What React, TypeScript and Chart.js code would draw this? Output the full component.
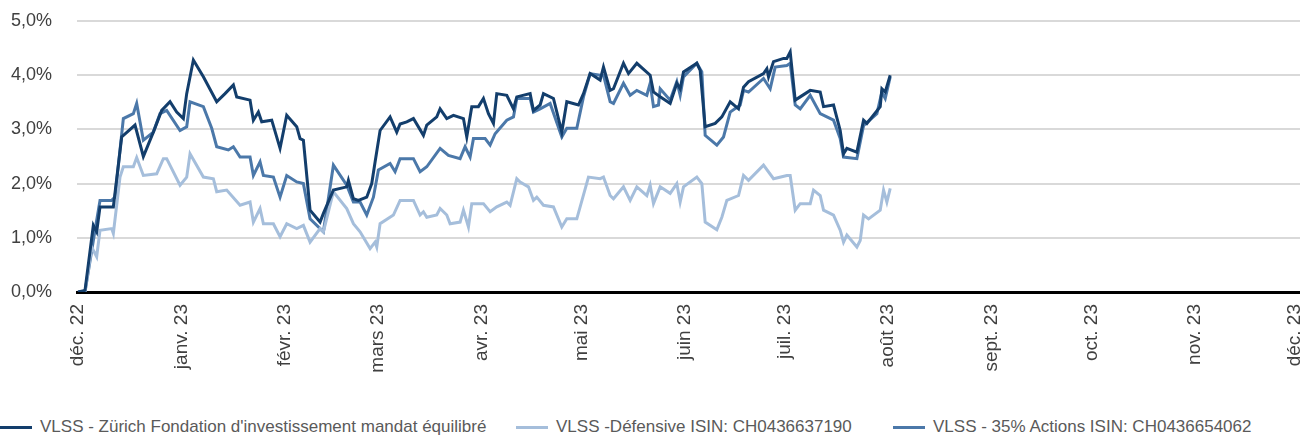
import { useEffect, useRef } from 'react';
import { Chart, registerables } from 'chart.js';

Chart.register(...registerables);

const FONT = '"Liberation Sans", Arial, Helvetica, sans-serif';
const TICK_COLOR = '#404040';

// x axis: days since 1 Dec 2022, month starts
const monthLabels = ['déc. 22', 'janv. 23', 'févr. 23', 'mars 23', 'avr. 23', 'mai 23', 'juin 23', 'juil. 23', 'août 23', 'sept. 23', 'oct. 23', 'nov. 23', 'déc. 23'];
const monthDays = [0, 31, 62, 90, 121, 151, 182, 212, 243, 274, 304, 335, 365];
const yTickLabels = ['0,0%', '1,0%', '2,0%', '3,0%', '4,0%', '5,0%'];

const seriesNames = [
  "VLSS - Zürich Fondation d'investissement mandat équilibré",
  'VLSS -Défensive ISIN: CH0436637190',
  'VLSS - 35% Actions ISIN: CH0436654062',
];
const seriesColors = ['#133e6c', '#a5bedb', '#4b78a9'];
const legendLeft = [0, 516, 893];

// [day, performance %]
const equilibre: [number, number][] = [
  [0, 0], [2.1, 0.03], [4.6, 1.23], [5.6, 1.11], [6.6, 1.57], [10.6, 1.57], [13.1, 2.86], [17.1, 3.08], [19.6, 2.5], [22.6, 2.95],
  [25.1, 3.35], [27.6, 3.51], [29.6, 3.32], [31.6, 3.2], [32.6, 3.66], [34.6, 4.28], [37.6, 3.97], [41.6, 3.51], [44.1, 3.66], [46.6, 3.82],
  [47.6, 3.6], [51.6, 3.54], [52.6, 3.17], [54.1, 3.32], [55.1, 3.14], [58.1, 3.17], [60.6, 2.65], [62.6, 3.26], [65.6, 3.05], [66.6, 2.83],
  [67.6, 2.8], [69.6, 1.51], [72.6, 1.29], [73.6, 1.45], [76.6, 1.88], [80.6, 1.94], [81.1, 2.06], [82.6, 1.72], [84.1, 1.69], [86.6, 1.75],
  [88.1, 2.0], [89.1, 2.4], [90.6, 2.98], [93.6, 3.23], [95.6, 2.95], [96.6, 3.1], [98.6, 3.14], [100.6, 3.2], [103.6, 2.89], [104.6, 3.08],
  [107.6, 3.23], [108.6, 3.38], [110.6, 3.2], [112.6, 3.26], [115.6, 3.2], [116.6, 2.86], [118.1, 3.42], [120.1, 3.42], [121.6, 3.57], [123.1, 3.29],
  [124.6, 3.11], [125.6, 3.66], [128.6, 3.63], [130.6, 3.38], [131.6, 3.6], [135.6, 3.66], [136.6, 3.35], [138.6, 3.45], [139.6, 3.66], [142.6, 3.57],
  [145.1, 2.95], [146.6, 3.51], [150.1, 3.45], [151.6, 3.66], [153.6, 4.03], [156.6, 3.91], [157.6, 4.15], [159.6, 3.72], [160.6, 3.75], [163.6, 4.22],
  [165.1, 4.03], [167.6, 4.22], [171.6, 4.0], [172.6, 3.69], [174.6, 3.6], [177.6, 3.48], [179.6, 3.85], [180.6, 3.75], [181.6, 4.06], [185.6, 4.22],
  [186.6, 4.09], [188.1, 3.05], [191.1, 3.11], [193.1, 3.23], [195.6, 3.51], [198.1, 3.38], [199.6, 3.78], [201.1, 3.88], [205.6, 4.03], [206.6, 4.12],
  [207.1, 3.97], [208.6, 4.25], [211.6, 4.31], [212.6, 4.31], [213.6, 4.43], [215.1, 3.54], [216.6, 3.6], [219.6, 3.72], [222.6, 3.69], [223.6, 3.42],
  [226.6, 3.45], [228.6, 2.98], [229.6, 2.55], [230.6, 2.65], [233.6, 2.58], [235.6, 3.17], [236.6, 3.11], [240.6, 3.42], [241.1, 3.75], [242.1, 3.69],
  [243.6, 4.0],
];

const defensive: [number, number][] = [
  [0, 0], [2.1, 0], [4.1, 0.83], [5.6, 0.65], [6.6, 1.14], [10.1, 1.17], [10.6, 1.08], [12.6, 2.12], [13.6, 2.31], [16.6, 2.31],
  [17.6, 2.48], [19.6, 2.15], [23.6, 2.18], [25.6, 2.46], [26.6, 2.46], [30.6, 1.97], [32.6, 2.12], [33.6, 2.55], [37.6, 2.12], [40.6, 2.09],
  [41.6, 1.85], [44.6, 1.88], [48.6, 1.6], [51.6, 1.66], [52.6, 1.29], [54.6, 1.54], [55.6, 1.26], [58.6, 1.26], [60.6, 1.02], [62.6, 1.26],
  [65.6, 1.17], [67.6, 1.23], [69.6, 0.92], [72.6, 1.17], [73.6, 1.11], [76.6, 1.85], [80.6, 1.54], [82.6, 1.26], [84.6, 1.11], [87.6, 0.8],
  [89.1, 0.92], [89.6, 0.83], [90.6, 1.26], [94.6, 1.42], [96.6, 1.69], [100.6, 1.69], [102.6, 1.42], [103.6, 1.48], [104.6, 1.38], [107.6, 1.42],
  [108.6, 1.54], [110.6, 1.42], [111.6, 1.26], [114.6, 1.29], [115.6, 1.51], [117.1, 1.2], [118.1, 1.63], [121.6, 1.63], [123.6, 1.48], [125.6, 1.57],
  [128.6, 1.66], [129.6, 1.6], [131.6, 2.09], [132.6, 2.03], [135.1, 1.94], [136.6, 1.69], [137.6, 1.75], [139.6, 1.6], [142.6, 1.57], [145.1, 1.2],
  [146.6, 1.35], [149.6, 1.35], [153.1, 2.12], [156.6, 2.09], [157.6, 2.12], [159.6, 1.78], [160.6, 1.72], [163.6, 1.94], [165.6, 1.69], [167.6, 1.94],
  [170.6, 1.78], [171.6, 1.97], [172.6, 1.63], [174.6, 1.94], [177.6, 1.82], [179.6, 2.0], [180.6, 1.66], [181.6, 1.94], [185.6, 2.12], [187.1, 2.0],
  [188.1, 1.29], [191.6, 1.15], [193.1, 1.38], [194.6, 1.69], [198.1, 1.78], [199.6, 2.15], [201.1, 2.06], [205.6, 2.34], [208.6, 2.09], [212.6, 2.15],
  [213.6, 2.15], [215.1, 1.51], [216.6, 1.63], [219.6, 1.63], [220.6, 1.88], [222.6, 1.78], [223.6, 1.51], [226.6, 1.42], [228.6, 1.14], [229.6, 0.92],
  [230.6, 1.05], [233.6, 0.83], [234.6, 0.95], [235.6, 1.42], [237.1, 1.35], [240.6, 1.51], [241.6, 1.88], [242.6, 1.66], [243.6, 1.91],
];

const actions35: [number, number][] = [
  [0, 0], [2.1, 0], [5.1, 1.14], [6.6, 1.69], [10.1, 1.69], [11.1, 1.75], [13.6, 3.2], [16.6, 3.29], [17.6, 3.48], [19.6, 2.8],
  [22.6, 2.95], [24.6, 3.29], [26.6, 3.35], [30.6, 2.98], [32.6, 3.05], [33.6, 3.51], [37.6, 3.42], [40.1, 3.02], [41.6, 2.68], [45.1, 2.62],
  [46.6, 2.68], [48.6, 2.49], [51.6, 2.49], [52.6, 2.15], [54.6, 2.4], [55.6, 2.15], [58.6, 2.12], [60.6, 1.75], [62.6, 2.15], [65.6, 2.03],
  [67.6, 2.0], [69.6, 1.35], [73.6, 1.11], [76.6, 2.34], [80.6, 1.97], [82.6, 1.66], [84.6, 1.66], [86.6, 1.42], [88.6, 1.75], [90.1, 2.25],
  [93.6, 2.37], [95.1, 2.22], [96.6, 2.46], [100.6, 2.46], [102.6, 2.22], [104.6, 2.31], [108.6, 2.65], [111.1, 2.52], [114.6, 2.46], [116.1, 2.68],
  [117.6, 2.49], [118.6, 2.83], [122.1, 2.83], [123.6, 2.71], [125.1, 2.92], [128.6, 3.17], [130.6, 3.23], [131.6, 3.57], [135.6, 3.57], [136.6, 3.32],
  [138.6, 3.38], [141.6, 3.48], [145.1, 2.86], [146.6, 3.02], [149.6, 3.02], [151.6, 3.6], [153.6, 4.03], [156.6, 4.0], [157.6, 4.0], [159.6, 3.51],
  [160.6, 3.48], [163.6, 3.85], [165.6, 3.63], [167.6, 3.72], [170.6, 3.63], [171.6, 3.85], [172.6, 3.42], [174.1, 3.45], [174.6, 3.75], [177.6, 3.54],
  [179.6, 3.88], [180.6, 3.63], [181.6, 3.97], [185.6, 4.22], [187.1, 4.06], [188.1, 2.89], [191.6, 2.71], [193.6, 2.86], [195.6, 3.32], [198.6, 3.45],
  [199.6, 3.72], [201.1, 3.69], [205.6, 3.94], [207.6, 3.75], [209.1, 4.15], [212.6, 4.18], [213.6, 4.22], [215.1, 3.45], [216.6, 3.38], [219.6, 3.63],
  [222.6, 3.29], [226.6, 3.17], [228.6, 2.83], [229.6, 2.49], [233.6, 2.46], [235.6, 3.07], [239.6, 3.29], [241.1, 3.69], [242.1, 3.57], [243.6, 3.97],
];

const seriesData = [equilibre, defensive, actions35];

export default function App() {
  const canvasRef = useRef<HTMLCanvasElement>(null);

  useEffect(() => {
    document.body.style.margin = '0';
    const canvas = canvasRef.current;
    if (!canvas) return;
    const chart = new Chart(canvas, {
      type: 'line',
      data: {
        datasets: seriesData.map((s, i) => ({
          label: seriesNames[i],
          data: s.map(([x, y]) => ({ x, y })),
          borderColor: seriesColors[i],
          backgroundColor: seriesColors[i],
          borderWidth: 3,
          pointRadius: 0,
          tension: 0,
          fill: false,
        })),
      },
      options: {
        animation: false,
        responsive: true,
        maintainAspectRatio: false,
        layout: { padding: { top: 21, left: 0, right: 0, bottom: 0 } },
        plugins: { legend: { display: false }, tooltip: { enabled: false } },
        scales: {
          x: {
            type: 'linear',
            min: -0.3,
            max: 366.5,
            afterBuildTicks: (scale: any) => {
              scale.ticks = monthDays.map((value) => ({ value }));
            },
            afterFit: (scale: any) => {
              scale.height = 118;
              scale.paddingLeft = 0;
              scale.paddingRight = 0;
              scale.paddingTop = 0;
              scale.paddingBottom = 0;
            },
            grid: { display: false, drawTicks: false },
            border: { display: true, color: '#000000', width: 3 },
            ticks: {
              autoSkip: false,
              minRotation: 90,
              maxRotation: 90,
              padding: 12,
              color: TICK_COLOR,
              font: { family: FONT, size: 19 },
              callback: (value: any) => {
                const i = monthDays.indexOf(Number(value));
                return i >= 0 ? monthLabels[i] : '';
              },
            },
          },
          y: {
            min: 0,
            max: 5,
            afterFit: (scale: any) => {
              scale.width = 77;
              scale.paddingTop = 0;
              scale.paddingBottom = 0;
              scale.paddingLeft = 0;
              scale.paddingRight = 0;
            },
            grid: { color: '#d9d9d9', lineWidth: 2, drawTicks: false },
            border: { display: false },
            ticks: {
              stepSize: 1,
              padding: 25,
              color: TICK_COLOR,
              font: { family: FONT, size: 18 },
              callback: (value: any) => yTickLabels[Math.round(Number(value))] ?? '',
            },
          },
        },
      },
    });
    return () => chart.destroy();
  }, []);

  return (
    <div style={{ position: 'relative', width: 1300, height: 436, background: '#fff', overflow: 'hidden' }}>
      <div style={{ position: 'absolute', left: 0, top: 0, width: 1300, height: 410 }}>
        <canvas ref={canvasRef} />
      </div>
      {seriesNames.map((name, i) => (
        <div
          key={name}
          style={{
            position: 'absolute',
            left: legendLeft[i],
            top: 417,
            height: 20,
            display: 'flex',
            alignItems: 'center',
            fontFamily: FONT,
            fontSize: 17,
            color: '#5a5a5a',
            whiteSpace: 'nowrap',
          }}
        >
          <span style={{ display: 'inline-block', width: 32, height: 3, background: seriesColors[i], marginRight: 8 }} />
          <span>{name}</span>
        </div>
      ))}
    </div>
  );
}
